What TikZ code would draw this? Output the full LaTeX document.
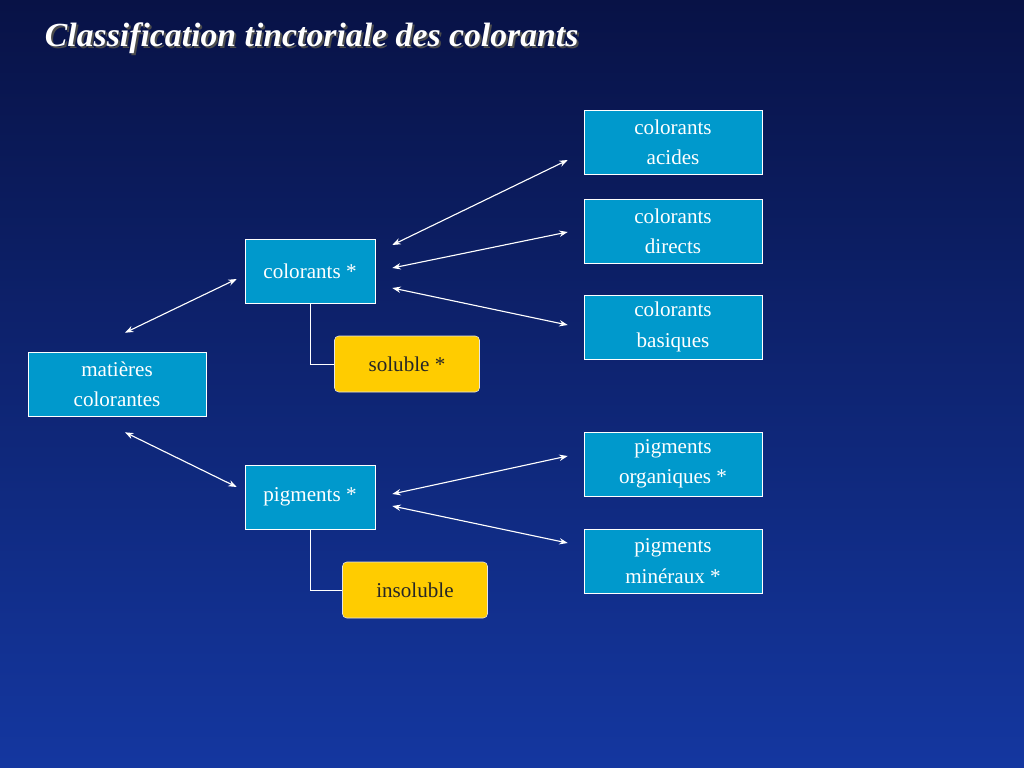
\documentclass[tikz,border=0pt]{standalone}
\usepackage{fontspec}
\setmainfont{Liberation Serif}
\usetikzlibrary{arrows.meta}
\definecolor{boxcyan}{RGB}{0,153,204}
\definecolor{boxyellow}{RGB}{255,204,0}
\definecolor{bgtop}{RGB}{8,18,70}
\definecolor{bgbot}{RGB}{20,55,160}
\tikzset{
  classbox/.style={draw=white, fill=boxcyan, text=white, align=center,
    minimum width=178*0.025cm, minimum height=64*0.025cm, font=\fontsize{15}{21.5}\selectfont},
  midbox/.style={classbox, minimum width=130*0.025cm},
  propbox/.style={draw=white!80!gray, fill=boxyellow, rounded corners=3pt, text=black!85,
    minimum width=145*0.025cm, minimum height=56*0.025cm, font=\fontsize{15}{18}\selectfont},
  dbl/.style={white, thick, {Stealth[length=6pt]}-{Stealth[length=6pt]}}
}
\begin{document}
\begin{tikzpicture}[x=0.025cm,y=-0.025cm]
                \shade[top color=bgtop, bottom color=bgbot] (0,0) rectangle (1024,768);
                \useasboundingbox (0,0) rectangle (1024,768);

                % Title
                \node[anchor=west, text=black!70, font=\fontsize{24}{28}\selectfont\bfseries\itshape] at (42,40) {Classification tinctoriale des colorants};
                \node[anchor=west, text=white, font=\fontsize{24}{28}\selectfont\bfseries\itshape] (title) at (40,38) {Classification tinctoriale des colorants};

                % Boxes
                \node[classbox] (mat) at (117,384) {matières\\colorantes};
                \node[midbox] (col) at (310,271) {colorants *};
                \node[midbox] (pig) at (310,497) {pigments *};
                \node[propbox] (sol) at (407,364) {soluble *};
                \node[propbox] (ins) at (415,590) {insoluble};
                \node[classbox] (aci) at (673,142) {colorants\\acides};
                \node[classbox] (dir) at (673,231) {colorants\\directs};
                \node[classbox] (bas) at (673,327) {colorants\\basiques};
                \node[classbox] (org) at (673,464) {pigments\\organiques *};
                \node[classbox] (min) at (673,561) {pigments\\minéraux *};

                % Links
                \draw[white] (col.south) |- (sol.west);
                \draw[white] (pig.south) |- (ins.west);

                % Arrows
                \draw[dbl] ([shift={(8,-19)}]mat.north) -- ([shift={(-8,8)}]col.west);
                \draw[dbl] ([shift={(8,16)}]mat.south) -- ([shift={(-8,-10)}]pig.west);
                \draw[dbl] ([shift={(17,-26)}]col.east) -- ([shift={(-16,18)}]aci.west);
                \draw[dbl] ([shift={(17,-3)}]col.east) -- ([shift={(-16,1)}]dir.west);
                \draw[dbl] ([shift={(17,17)}]col.east) -- ([shift={(-16,-2)}]bas.west);
                \draw[dbl] ([shift={(17,-3)}]pig.east) -- ([shift={(-16,-8)}]org.west);
                \draw[dbl] ([shift={(17,9)}]pig.east) -- ([shift={(-16,-18)}]min.west);
            \end{tikzpicture}
\end{document}
